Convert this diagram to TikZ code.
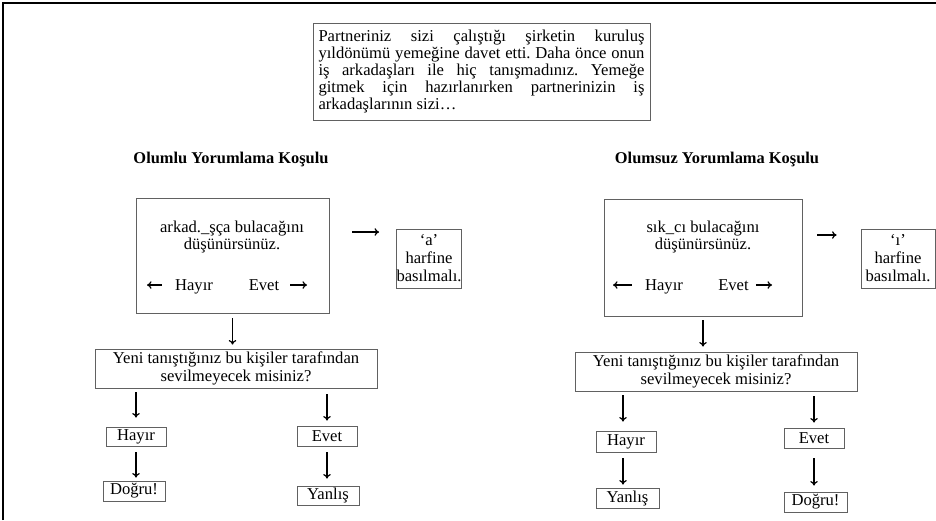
\documentclass[tikz,border=0pt]{standalone}
\usepackage{fontspec}
\setmainfont{Liberation Serif}
\usetikzlibrary{arrows.meta,calc}
\begin{document}
\begin{tikzpicture}[x=1pt,y=-1pt,
  box/.style={draw=black!62, line width=0.9pt, inner sep=0pt, align=center,
    font=\fontsize{16.6}{18}\selectfont},
  txt/.style={inner sep=0pt, align=center, font=\fontsize{16.6}{17}\selectfont},
  hd/.style={inner sep=0pt, font=\fontsize{16.4}{18}\selectfont\bfseries},
  arr/.style={-{To[length=4.5pt,width=7.5pt]}, line width=1.2pt, black}]
\useasboundingbox (0,0) rectangle (936,520);
\fill[white] (0,0) rectangle (936,520);
\draw[line width=2pt] (3,520) -- (3,2.5) -- (936,2.5);

% top text
\node[box, minimum width=337pt, minimum height=97pt] (top) at (481.5,71.5)
 {\parbox{326pt}{\frenchspacing\fontsize{16.6}{17}\selectfont Partneriniz sizi çalıştığı şirketin kuruluş\linebreak
 yıldönümü yemeğine davet etti. Daha önce onun\linebreak
 iş arkadaşları ile hiç tanışmadınız. Yemeğe\linebreak
 gitmek için hazırlanırken partnerinizin iş\linebreak
 arkadaşlarının sizi…}};

% headings
\node[hd] (hL) at (231,159) {Olumlu Yorumlama Koşulu};
\node[hd] (hR) at (717,159) {Olumsuz Yorumlama Koşulu};

% ---------- left block ----------
\node[box, minimum width=193pt, minimum height=115pt] (bL) at (232.5,255.5) {};
\node[txt] (tL) at (232,237.5) {arkad.\_şça bulacağını\\düşünürsünüz.};
\node[txt, anchor=base] (hyL) at (194,290) {Hayır};
\node[txt, anchor=base] (evL) at (264,290) {Evet};
\coordinate (hyLe) at (147,285);
\coordinate (evLe) at (307,285);
\draw[arr, shorten <=13pt] (hyL.west |- hyLe) -- (hyLe);
\draw[arr, shorten <=11pt] (evL.east |- evLe) -- (evLe);

\node[box, minimum width=64pt, minimum height=59pt] (sL) at (429,258.5) {‘a’\\harfine\\basılmalı.};
\coordinate (yL) at (0,232);
\draw[arr, shorten <=23pt, shorten >=17pt] (bL.east |- yL) -- (sL.west |- yL);

\node[box, minimum width=282pt, minimum height=39pt] (qL) at (236,368.5)
 {Yeni tanıştığınız bu kişiler tarafından\\sevilmeyecek misiniz?};
\node[box, minimum width=60pt, minimum height=19pt] (hayL) at (136,436.5) {Hayır};
\node[box, minimum width=62pt, minimum height=20pt] (dogL) at (134,491) {Doğru!};
\node[box, minimum width=60pt, minimum height=20pt] (evtL) at (327,436) {Evet};
\node[box, minimum width=62pt, minimum height=19pt] (yanL) at (328,495.5) {Yanlış};

\draw[arr, shorten <=5pt, shorten >=4pt] (bL.south) -- (bL.south |- qL.north);
\draw[arr, shorten <=4pt, shorten >=9pt] (hayL.north |- qL.south) -- (hayL.north);
\draw[arr, shorten <=6pt, shorten >=3pt] (hayL.south) -- (hayL.south |- dogL.north);
\draw[arr, shorten <=6pt, shorten >=5pt] (evtL.north |- qL.south) -- (evtL.north);
\draw[arr, shorten <=6pt, shorten >=7pt] (evtL.south) -- (evtL.south |- yanL.north);

% ---------- right block ----------
\node[box, minimum width=198pt, minimum height=117pt] (bR) at (703,257.5) {};
\node[txt] (tR) at (703,237.5) {sık\_cı bulacağını\\düşünürsünüz.};
\node[txt, anchor=base] (hyR) at (664,290) {Hayır};
\node[txt, anchor=base] (evR) at (733.5,290) {Evet};
\coordinate (hyRe) at (613,285);
\coordinate (evRe) at (772,285);
\draw[arr, shorten <=13pt] (hyR.west |- hyRe) -- (hyRe);
\draw[arr, shorten <=7pt] (evR.east |- evRe) -- (evRe);

\node[box, minimum width=74pt, minimum height=59pt] (sR) at (898,258.5) {‘ı’\\harfine\\basılmalı.};
\coordinate (yR) at (0,235);
\draw[arr, shorten <=15pt, shorten >=24pt] (bR.east |- yR) -- (sR.west |- yR);

\node[box, minimum width=282pt, minimum height=39pt] (qR) at (716,371.5)
 {Yeni tanıştığınız bu kişiler tarafından\\sevilmeyecek misiniz?};
\node[box, minimum width=60pt, minimum height=21pt] (hayR) at (626,441.5) {Hayır};
\node[box, minimum width=63pt, minimum height=20pt] (yanR) at (627.5,498) {Yanlış};
\node[box, minimum width=60pt, minimum height=20pt] (evtR) at (814,438) {Evet};
\node[box, minimum width=63pt, minimum height=20pt] (dogR) at (815.5,502) {Doğru!};

\draw[arr, shorten <=4pt, shorten >=5pt] (bR.south) -- (bR.south |- qR.north);
\draw[arr, shorten <=4pt, shorten >=9pt] ([xshift=-3pt]hayR.north |- qR.south) -- ([xshift=-3pt]hayR.north);
\draw[arr, shorten <=6pt, shorten >=3pt] ([xshift=-3pt]hayR.south) -- ([xshift=-3pt]hayR.south |- yanR.north);
\draw[arr, shorten <=5pt, shorten >=5pt] (evtR.north |- qR.south) -- (evtR.north);
\draw[arr, shorten <=10pt, shorten >=6pt] (evtR.south) -- (evtR.south |- dogR.north);
\end{tikzpicture}
\end{document}
